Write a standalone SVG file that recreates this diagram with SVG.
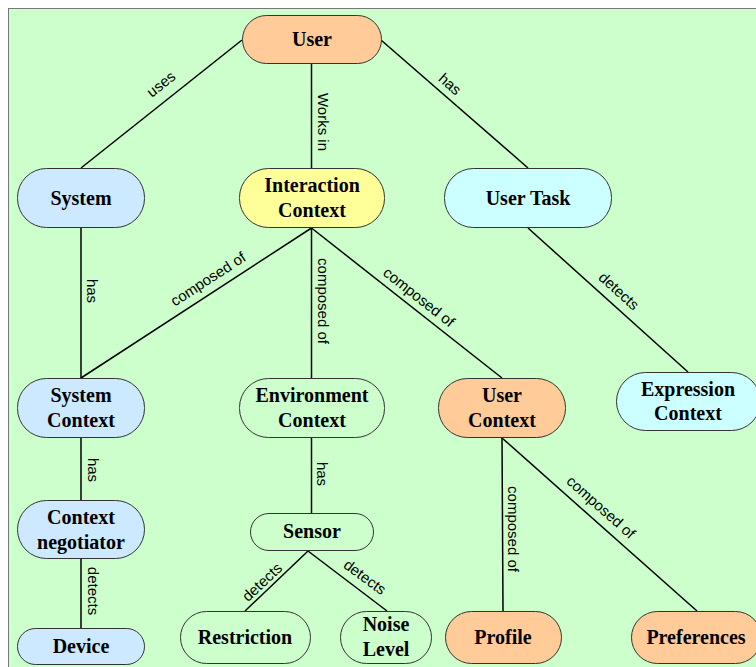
<svg xmlns="http://www.w3.org/2000/svg" width="756" height="667" viewBox="0 0 756 667">
<style>
.n{stroke:#333;stroke-width:1}
.peach{fill:#FFCC99}
.blue{fill:#CCE9FF}
.cyan{fill:#CCFFFF}
.yellow{fill:#FFFF99}
.green{fill:#CCFFCC}
.t{font-family:"Liberation Serif","Times New Roman",serif;font-weight:bold;font-size:20px;fill:#000;text-anchor:middle}
.e{stroke:#000;stroke-width:1.5;fill:none}
.l{font-family:"Liberation Sans",Arial,sans-serif;font-size:15px;fill:#000;text-anchor:middle}
</style>
<rect x="0" y="0" width="756" height="667" fill="#fff"/>
<rect x="8.5" y="8.5" width="760" height="670" fill="#CCFFCC" stroke="#777" stroke-width="1"/>
<g id="connectors">
<line class="e" x1="242" y1="40" x2="81" y2="168"/>
<line class="e" x1="311.5" y1="64" x2="311.5" y2="168"/>
<line class="e" x1="381" y1="40" x2="528" y2="168"/>
<line class="e" x1="81" y1="228" x2="81" y2="378"/>
<line class="e" x1="311.5" y1="228" x2="81" y2="378"/>
<line class="e" x1="311.5" y1="228" x2="311.5" y2="378"/>
<line class="e" x1="311.5" y1="228" x2="502" y2="378"/>
<line class="e" x1="528" y1="228" x2="688" y2="372"/>
<line class="e" x1="81" y1="438" x2="81" y2="500"/>
<line class="e" x1="311.5" y1="438" x2="311.5" y2="513"/>
<line class="e" x1="81" y1="559" x2="81" y2="628"/>
<line class="e" x1="308" y1="551" x2="245" y2="611"/>
<line class="e" x1="308" y1="551" x2="387" y2="611"/>
<line class="e" x1="502" y1="438" x2="503" y2="611"/>
<line class="e" x1="502" y1="438" x2="697" y2="611"/>
<text class="l" transform="translate(161,84) rotate(-38.4)" dy="0.35em">uses</text>
<text class="l" transform="translate(323,122) rotate(90)" dy="0.35em">Works in</text>
<text class="l" transform="translate(450,84) rotate(41.3)" dy="0.35em">has</text>
<text class="l" transform="translate(92,291) rotate(90)" dy="0.35em">has</text>
<text class="l" transform="translate(208,279) rotate(-33)" dy="0.35em">composed of</text>
<text class="l" transform="translate(323,301) rotate(90)" dy="0.35em">composed of</text>
<text class="l" transform="translate(419,297) rotate(38.3)" dy="0.35em">composed of</text>
<text class="l" transform="translate(619,291) rotate(42.2)" dy="0.35em">detects</text>
<text class="l" transform="translate(93,470) rotate(90)" dy="0.35em">has</text>
<text class="l" transform="translate(322,474) rotate(90)" dy="0.35em">has</text>
<text class="l" transform="translate(93,591) rotate(90)" dy="0.35em">detects</text>
<text class="l" transform="translate(262,582) rotate(-43)" dy="0.35em">detects</text>
<text class="l" transform="translate(365,577) rotate(36.3)" dy="0.35em">detects</text>
<text class="l" transform="translate(513,529) rotate(90)" dy="0.35em">composed of</text>
<text class="l" transform="translate(601,507) rotate(41.6)" dy="0.35em">composed of</text>
</g>
<g id="user"><rect class="n peach" x="242.5" y="15.5" width="139" height="48" rx="24"/><text class="t" x="312" y="46">User</text></g>
<g id="system"><rect class="n blue" x="17.5" y="168.5" width="127" height="59" rx="29"/><text class="t" x="81" y="205">System</text></g>
<g id="interaction-context"><rect class="n yellow" x="239.5" y="168.5" width="145" height="59" rx="29"/><text class="t" x="312" y="192">Interaction</text><text class="t" x="312" y="217">Context</text></g>
<g id="user-task"><rect class="n cyan" x="444.5" y="168.5" width="167" height="59" rx="29"/><text class="t" x="528" y="205">User Task</text></g>
<g id="system-context"><rect class="n blue" x="17.5" y="378.5" width="127" height="59" rx="29"/><text class="t" x="81" y="402">System</text><text class="t" x="81" y="427">Context</text></g>
<g id="environment-context"><rect class="n green" x="239.5" y="378.5" width="145" height="59" rx="29"/><text class="t" x="312" y="402">Environment</text><text class="t" x="312" y="427">Context</text></g>
<g id="user-context"><rect class="n peach" x="438.5" y="378.5" width="127" height="59" rx="29"/><text class="t" x="502" y="402">User</text><text class="t" x="502" y="427">Context</text></g>
<g id="expression-context"><rect class="n cyan" x="616.5" y="372.5" width="144" height="58" rx="29"/><text class="t" x="688" y="396">Expression</text><text class="t" x="688" y="420">Context</text></g>
<g id="context-negotiator"><rect class="n blue" x="17.5" y="500.5" width="127" height="58" rx="29"/><text class="t" x="81" y="524">Context</text><text class="t" x="81" y="549">negotiator</text></g>
<g id="sensor"><rect class="n green" x="250.5" y="513.5" width="123" height="37" rx="18.5"/><text class="t" x="312" y="538">Sensor</text></g>
<g id="device"><rect class="n blue" x="17.5" y="628.5" width="127" height="36" rx="18"/><text class="t" x="81" y="653">Device</text></g>
<g id="restriction"><rect class="n green" x="180.5" y="611.5" width="130" height="52" rx="26"/><text class="t" x="245" y="644">Restriction</text></g>
<g id="noise-level"><rect class="n green" x="340.5" y="611.5" width="91" height="52" rx="26"/><text class="t" x="386" y="631">Noise</text><text class="t" x="386" y="656">Level</text></g>
<g id="profile"><rect class="n peach" x="445.5" y="611.5" width="116" height="52" rx="26"/><text class="t" x="503" y="644">Profile</text></g>
<g id="preferences"><rect class="n peach" x="631.5" y="611.5" width="130" height="52" rx="26"/><text class="t" x="696" y="644">Preferences</text></g>
</svg>
